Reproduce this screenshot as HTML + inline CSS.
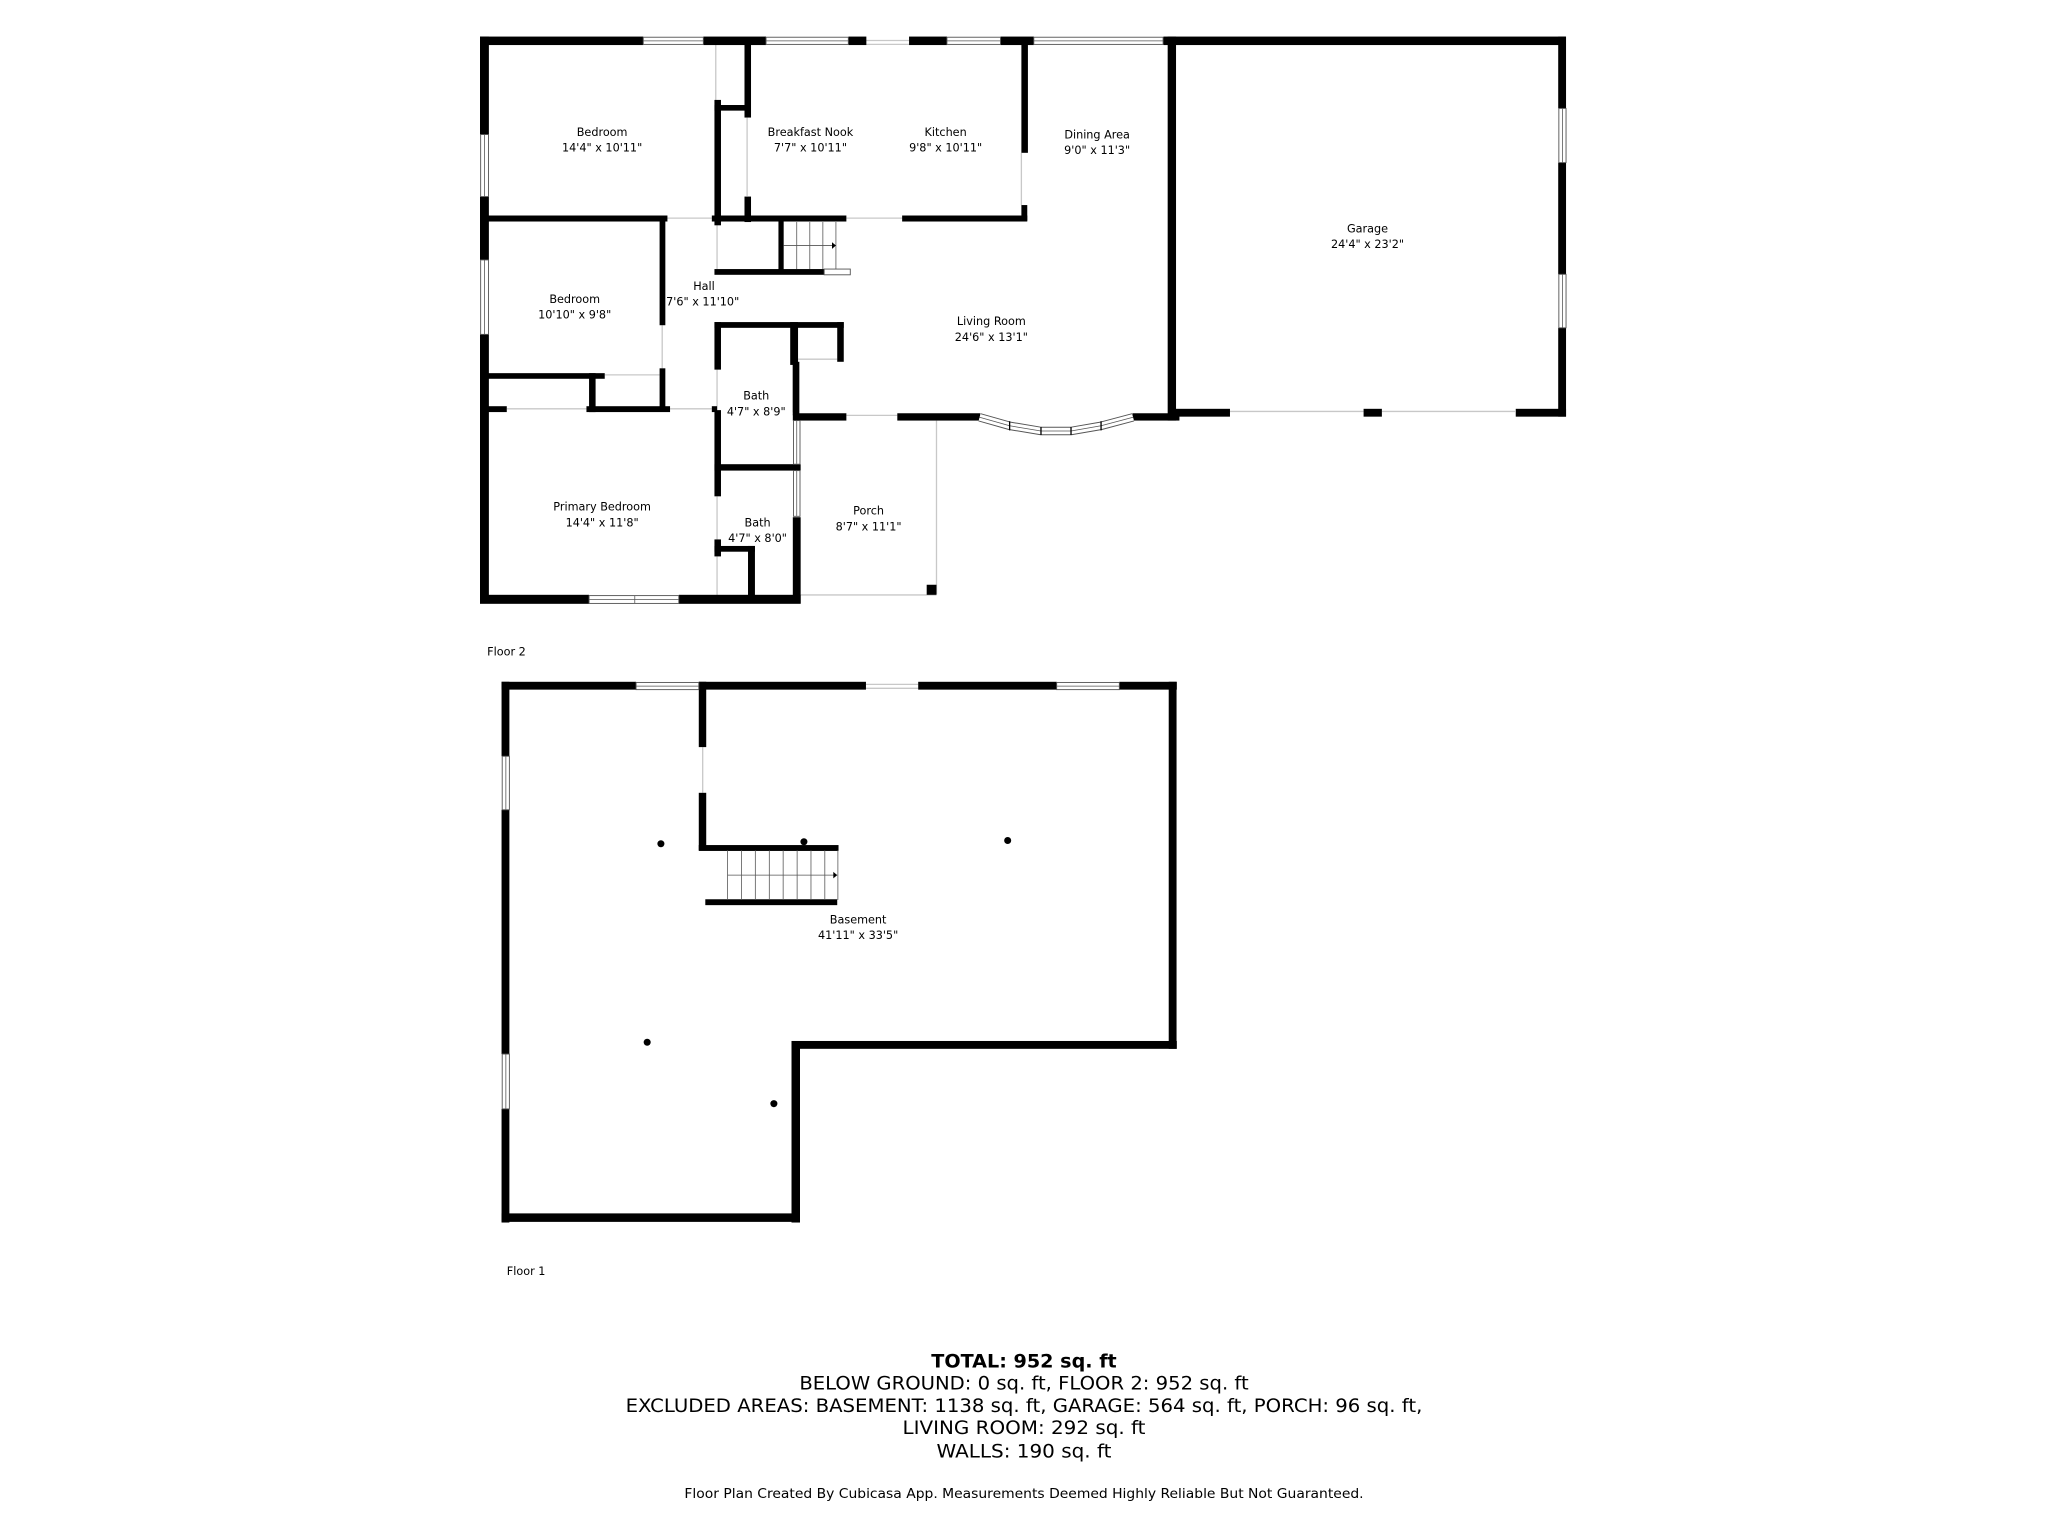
<!DOCTYPE html>
<html><head><meta charset="utf-8"><style>
html,body{margin:0;padding:0;background:#fff;}
svg{display:block;}
text{font-family:"DejaVu Sans","Liberation Sans",sans-serif;fill:#000;}
</style></head><body>
<svg width="2048" height="1536" viewBox="0 0 1568 1176" xmlns="http://www.w3.org/2000/svg">
<rect width="1568" height="1176" fill="#fff"/>
<g stroke="#c8c8c8" stroke-width="1" fill="none">
<line x1="663" y1="31" x2="696" y2="31"/><line x1="663" y1="34" x2="696" y2="34"/>
<line x1="511" y1="167" x2="545" y2="167"/>
<line x1="648" y1="167" x2="691" y2="167"/>
<line x1="548" y1="33" x2="548" y2="77"/>
<line x1="572" y1="90" x2="572" y2="150"/>
<line x1="549" y1="172" x2="549" y2="206"/>
<line x1="507" y1="249" x2="507" y2="282"/>
<line x1="463" y1="287" x2="505" y2="287"/>
<line x1="388" y1="313" x2="449" y2="313"/>
<line x1="513" y1="313" x2="545" y2="313"/>
<line x1="549" y1="283" x2="549" y2="314"/>
<line x1="549" y1="380" x2="549" y2="413"/>
<line x1="549" y1="426" x2="549" y2="456"/>
<line x1="607" y1="279" x2="607" y2="316"/>
<line x1="611" y1="275" x2="641" y2="275"/>
<line x1="648" y1="318" x2="687" y2="318"/>
<line x1="941" y1="315" x2="1044" y2="315"/><line x1="1058" y1="315" x2="1160" y2="315"/>
<line x1="717" y1="322" x2="717" y2="455"/>
<line x1="613" y1="455.5" x2="717" y2="455.5"/>
<line x1="663" y1="524" x2="703" y2="524"/><line x1="663" y1="527" x2="703" y2="527"/>
<line x1="538" y1="572" x2="538" y2="607"/>
<line x1="782" y1="117" x2="782" y2="157"/>
</g>
<g fill="#000">
<rect x="367.5" y="28" width="125" height="6.5"/>
<rect x="538.5" y="28" width="48" height="6.5"/>
<rect x="649.6" y="28" width="13.7" height="6.5"/>
<rect x="696" y="28" width="29" height="6.5"/>
<rect x="766" y="28" width="25.5" height="6.5"/>
<rect x="890.8" y="28" width="308" height="6.5"/>
<rect x="367.5" y="28" width="6.8" height="75"/>
<rect x="367.5" y="150.5" width="6.8" height="48.5"/>
<rect x="367.5" y="256" width="6.8" height="206"/>
<rect x="367.5" y="165" width="143.5" height="4.6"/>
<rect x="545" y="165" width="103" height="4.6"/>
<rect x="690.7" y="165" width="95.8" height="4.6"/>
<rect x="782" y="157" width="4.5" height="12"/>
<rect x="782" y="33" width="5" height="84"/>
<rect x="547" y="76.5" width="5" height="96"/>
<rect x="547" y="80.4" width="27.4" height="4.3"/>
<rect x="570" y="33" width="5" height="57"/>
<rect x="570" y="150.5" width="5" height="19.5"/>
<rect x="547" y="206" width="84" height="4.4"/>
<rect x="596" y="169" width="4" height="41"/>
<rect x="505" y="168" width="4.4" height="81"/>
<rect x="505" y="282" width="4.4" height="33"/>
<rect x="367.5" y="285.7" width="95.5" height="4.3"/>
<rect x="451" y="285.7" width="5" height="29.8"/>
<rect x="367.5" y="311" width="20.5" height="4.5"/>
<rect x="449" y="311" width="64" height="4.5"/>
<rect x="545" y="311" width="4" height="4.5"/>
<rect x="547" y="246.6" width="99" height="4.4"/>
<rect x="547" y="246.6" width="5" height="36.4"/>
<rect x="547" y="314" width="5" height="66"/>
<rect x="547" y="413" width="5" height="13"/>
<rect x="605" y="246.6" width="6" height="32.8"/>
<rect x="607" y="277" width="5" height="41"/>
<rect x="641" y="246.6" width="5" height="30.4"/>
<rect x="607" y="316.4" width="41" height="5.6"/>
<rect x="687" y="316.4" width="63.5" height="5.6"/>
<rect x="867" y="316.4" width="36" height="5.6"/>
<rect x="894" y="28" width="6.4" height="294"/>
<rect x="1193" y="28" width="6" height="55"/>
<rect x="1193" y="124.5" width="6" height="85.5"/>
<rect x="1193" y="251" width="6" height="68"/>
<rect x="894.5" y="313" width="47.2" height="6"/>
<rect x="1044" y="313" width="14" height="6"/>
<rect x="1160.5" y="313" width="38.5" height="6"/>
<rect x="547" y="355.4" width="66" height="4.9"/>
<rect x="607" y="396" width="6" height="66"/>
<rect x="547" y="418" width="31" height="4.4"/>
<rect x="572.7" y="418" width="5.3" height="40"/>
<rect x="367.5" y="455.4" width="83.5" height="6.9"/>
<rect x="519.7" y="455.4" width="93.3" height="6.9"/>
<rect x="709.5" y="447.7" width="7.5" height="7.7"/>
</g>
<g fill="#fff" stroke="#555" stroke-width="0.7">
<rect x="492.5" y="28.5" width="46" height="5.5"/>
<rect x="586.5" y="28.5" width="63" height="5.5"/>
<rect x="725" y="28.5" width="41" height="5.5"/>
<rect x="791.5" y="28.5" width="99" height="5.5"/>
<rect x="368" y="103" width="6" height="47.5"/>
<rect x="368" y="199" width="6" height="57"/>
<rect x="1193.5" y="83" width="5.5" height="41.5"/>
<rect x="1193.5" y="210" width="5.5" height="41"/>
<rect x="451" y="456" width="68.7" height="6"/>
<rect x="607.5" y="322" width="5" height="33.4"/>
<rect x="607.5" y="360.3" width="5" height="35"/>
<rect x="631" y="206" width="20" height="4.4"/>
</g>
<g stroke="#555" stroke-width="0.6">
<line x1="492.5" y1="31.3" x2="538.5" y2="31.3"/>
<line x1="586.5" y1="31.3" x2="649.5" y2="31.3"/>
<line x1="725" y1="31.3" x2="766" y2="31.3"/>
<line x1="791.5" y1="31.3" x2="890.5" y2="31.3"/>
<line x1="371" y1="103" x2="371" y2="150.5"/>
<line x1="371" y1="199" x2="371" y2="256"/>
<line x1="1196.3" y1="83" x2="1196.3" y2="124.5"/>
<line x1="1196.3" y1="210" x2="1196.3" y2="251"/>
<line x1="451" y1="459" x2="519.7" y2="459"/>
<line x1="486" y1="456" x2="486" y2="462"/>
<line x1="610" y1="322" x2="610" y2="355"/>
<line x1="610" y1="360" x2="610" y2="395"/>
</g>
<path d="M750,319.5 L773,326 L797,330 L820,330 L843,326 L867.5,319.5" fill="none" stroke="#555" stroke-width="6.5"/>
<path d="M750,319.5 L773,326 L797,330 L820,330 L843,326 L867.5,319.5" fill="none" stroke="#fff" stroke-width="5"/>
<path d="M750,319.5 L773,326 L797,330 L820,330 L843,326 L867.5,319.5" fill="none" stroke="#555" stroke-width="0.6"/>
<g stroke="#000" stroke-width="1"><line x1="773" y1="322.5" x2="773" y2="329.5"/><line x1="797" y1="327" x2="797" y2="333"/><line x1="820" y1="327" x2="820" y2="333"/><line x1="843" y1="322.5" x2="843" y2="329.5"/></g>
<g stroke="#555" stroke-width="0.6">
<line x1="610" y1="170" x2="610" y2="206"/><line x1="620" y1="170" x2="620" y2="206"/><line x1="630" y1="170" x2="630" y2="206"/><line x1="640" y1="170" x2="640" y2="206"/>
<line x1="600" y1="188" x2="640" y2="188"/>
</g>
<path d="M637,185.5 L640,188 L637,190.5Z" fill="#000"/>
<g fill="#000">
<rect x="384" y="522" width="103" height="6"/>
<rect x="535" y="522" width="128" height="6"/>
<rect x="703" y="522" width="106" height="6"/>
<rect x="857" y="522" width="44" height="6"/>
<rect x="384" y="522" width="6" height="57"/>
<rect x="384" y="620" width="6" height="187"/>
<rect x="384" y="849" width="6" height="87"/>
<rect x="384" y="929" width="228" height="6.5"/>
<rect x="606" y="797" width="6.5" height="139"/>
<rect x="606" y="797" width="295" height="6"/>
<rect x="894.8" y="522" width="6" height="281"/>
<rect x="535" y="522" width="5.7" height="50"/>
<rect x="535" y="607" width="5.7" height="44"/>
<rect x="535" y="647" width="107" height="4.5"/>
<rect x="540" y="688.5" width="101" height="4.5"/>
<circle cx="506" cy="646" r="2.7"/><circle cx="615.5" cy="644.5" r="2.7"/><circle cx="771.5" cy="643.5" r="2.7"/><circle cx="495.5" cy="798" r="2.7"/><circle cx="592.5" cy="845" r="2.7"/>
</g>
<g fill="#fff" stroke="#555" stroke-width="0.7">
<rect x="487" y="522.5" width="48" height="5.5"/>
<rect x="809" y="522.5" width="48" height="5.5"/>
<rect x="384.5" y="579" width="5.5" height="41"/>
<rect x="384.5" y="807" width="5.5" height="42"/>
</g>
<g stroke="#555" stroke-width="0.6">
<line x1="487" y1="525.3" x2="535" y2="525.3"/><line x1="809" y1="525.3" x2="857" y2="525.3"/>
<line x1="387.3" y1="579" x2="387.3" y2="620"/><line x1="387.3" y1="807" x2="387.3" y2="849"/>
<line x1="557" y1="651" x2="557" y2="689"/><line x1="567.7" y1="651" x2="567.7" y2="689"/><line x1="578.3" y1="651" x2="578.3" y2="689"/><line x1="589" y1="651" x2="589" y2="689"/><line x1="599.6" y1="651" x2="599.6" y2="689"/><line x1="610.3" y1="651" x2="610.3" y2="689"/><line x1="620.9" y1="651" x2="620.9" y2="689"/><line x1="631.5" y1="651" x2="631.5" y2="689"/><line x1="641.5" y1="651" x2="641.5" y2="689"/>
<line x1="557" y1="670" x2="641" y2="670"/>
</g>
<path d="M638,667.5 L641,670 L638,672.5Z" fill="#000"/>
<g font-size="8.6" text-anchor="middle">
<text x="461" y="104">Bedroom</text><text x="461" y="116">14'4" x 10'11"</text>
<text x="620.5" y="104">Breakfast Nook</text><text x="620.5" y="116">7'7" x 10'11"</text>
<text x="724" y="104">Kitchen</text><text x="724" y="116">9'8" x 10'11"</text>
<text x="840" y="106">Dining Area</text><text x="840" y="118">9'0" x 11'3"</text>
<text x="1047" y="178">Garage</text><text x="1047" y="190">24'4" x 23'2"</text>
<text x="440" y="232">Bedroom</text><text x="440" y="244">10'10" x 9'8"</text>
<text x="539" y="222">Hall</text><text x="538" y="234">7'6" x 11'10"</text>
<text x="759" y="249">Living Room</text><text x="759" y="261">24'6" x 13'1"</text>
<text x="579" y="306">Bath</text><text x="579" y="318">4'7" x 8'9"</text>
<text x="461" y="391">Primary Bedroom</text><text x="461" y="403">14'4" x 11'8"</text>
<text x="580" y="403">Bath</text><text x="580" y="415">4'7" x 8'0"</text>
<text x="665" y="394">Porch</text><text x="665" y="406">8'7" x 11'1"</text>
<text x="657" y="707">Basement</text><text x="657" y="719">41'11" x 33'5"</text>
</g>
<text x="373" y="502" font-size="8.6">Floor 2</text>
<text x="388" y="976" font-size="8.6">Floor 1</text>
<g text-anchor="middle" font-size="14">
<text x="784" y="1047" font-weight="bold" textLength="142" lengthAdjust="spacingAndGlyphs">TOTAL: 952 sq. ft</text>
<text x="784" y="1064" textLength="344" lengthAdjust="spacingAndGlyphs">BELOW GROUND: 0 sq. ft, FLOOR 2: 952 sq. ft</text>
<text x="784" y="1081" textLength="610" lengthAdjust="spacingAndGlyphs">EXCLUDED AREAS: BASEMENT: 1138 sq. ft, GARAGE: 564 sq. ft, PORCH: 96 sq. ft,</text>
<text x="784" y="1098" textLength="186" lengthAdjust="spacingAndGlyphs">LIVING ROOM: 292 sq. ft</text>
<text x="784" y="1116" textLength="134" lengthAdjust="spacingAndGlyphs">WALLS: 190 sq. ft</text>
<text x="784" y="1147" font-size="10" textLength="520" lengthAdjust="spacingAndGlyphs">Floor Plan Created By Cubicasa App. Measurements Deemed Highly Reliable But Not Guaranteed.</text>
</g>
</svg>
</body></html>
